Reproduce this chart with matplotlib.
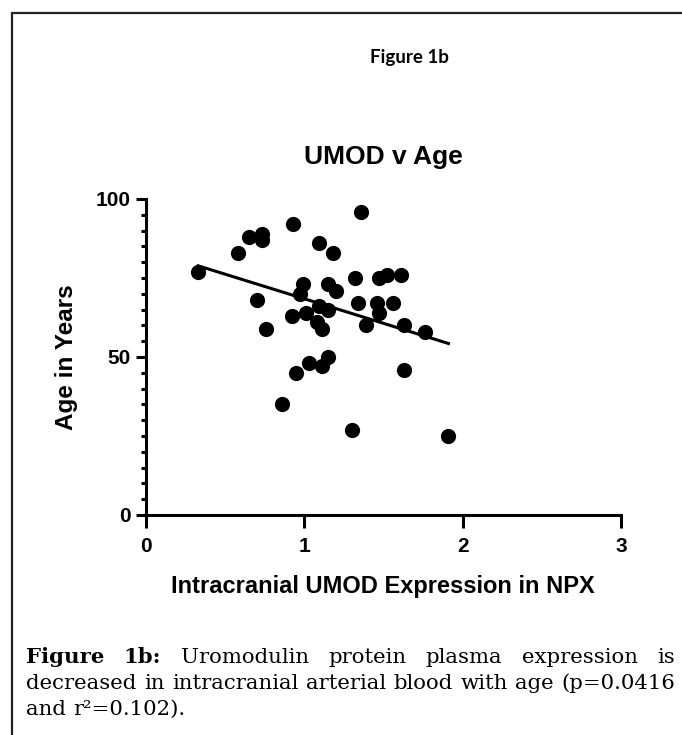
import numpy as np
import matplotlib
matplotlib.use("Agg")
import matplotlib.pyplot as plt
from matplotlib.patches import Rectangle

# intracranial UMOD expression (NPX) vs age
umod_npx = [0.33, 0.58, 0.65, 0.73, 0.73, 0.93, 1.36, 1.09, 1.18, 0.70,
            0.76, 0.99, 0.97, 0.92, 1.01, 1.09, 1.15, 1.08, 1.11, 1.15,
            1.20, 1.32, 1.34, 1.39, 1.47, 1.52, 1.61, 1.46, 1.47, 1.56,
            1.63, 1.76, 1.15, 1.03, 1.11, 0.95, 1.63, 0.86, 1.30, 1.91]
age_years = [77, 83, 88, 89, 87, 92, 96, 86, 83, 68,
             59, 73, 70, 63, 64, 66, 65, 61, 59, 73,
             71, 75, 67, 60, 75, 76, 76, 67, 64, 67,
             60, 58, 50, 48, 47, 45, 46, 35, 27, 25]

x_ticks = [0, 1, 2, 3]
y_ticks = [0, 50, 100]

caption_lines = [
    [("Figure 1b:", "bold"), ("Uromodulin protein plasma expression is", "normal")],
    [("decreased in intracranial arterial blood with age (p=0.0416", "normal")],
    [("and r\u00b2=0.102).", "normal")],
]

W, H = 682, 735
fig = plt.figure(figsize=(W / 100, H / 100), dpi=100)

sans = "Liberation Sans"
ax = fig.add_axes([146 / W, 1 - 515 / H, (621 - 146) / W, (515 - 199) / H])
ax.scatter(umod_npx, age_years, s=120, color="black", zorder=3, clip_on=False,
           linewidths=0)

# linear fit
x = np.array(umod_npx)
slope, icpt = np.polyfit(x, age_years, 1)
xs = np.array([x.min(), x.max()])
ax.plot(xs, slope * xs + icpt, color="black", lw=2.2, zorder=2)

ax.set_xlim(0, 3)
ax.set_ylim(0, 100)
ax.set_xticks(x_ticks)
ax.set_yticks(y_ticks)
ax.set_yticks(np.arange(0, 101, 5), minor=True)
for side in ["top", "right"]:
    ax.spines[side].set_visible(False)
for side in ["left", "bottom"]:
    ax.spines[side].set_linewidth(2.2)
ax.tick_params(axis="y", which="major", length=7, width=2.2, pad=4)
ax.tick_params(axis="y", which="minor", length=3.6, width=2.2)
ax.tick_params(axis="x", which="major", length=9, width=2.2, pad=7)
ax.set_xticklabels([str(v) for v in x_ticks], fontsize=15, fontweight="bold",
                   family=sans)
ax.set_yticklabels([str(v) for v in y_ticks], fontsize=15, fontweight="bold",
                   family=sans)

fig.text(383 / W, 1 - 157 / H, "UMOD v Age", ha="center", va="center",
         fontsize=19, fontweight="bold", family=sans)
fig.text(66 / W, 1 - 357 / H, "Age in Years", ha="center", va="center",
         rotation=90, fontsize=17.5, fontweight="bold", family=sans)
fig.text(383 / W, 1 - 587 / H, "Intracranial UMOD Expression in NPX",
         ha="center", va="center", fontsize=17, fontweight="bold", family=sans)
fig.text(409 / W, 1 - 57 / H, "Figure 1b", ha="center", va="center",
         fontsize=13.5, fontweight="bold", family="Lato")

# outer frame (right and bottom edges run off the page)
fig.patches.append(Rectangle((12 / W, -0.1), 1.2, 1 - 13 / H + 0.1, fill=False,
                             lw=1.6, edgecolor="#222222",
                             transform=fig.transFigure, clip_on=False))

# justified caption
serif = "DejaVu Serif"
left, right = 26, 675
baselines = [663, 689, 715]
renderer = fig.canvas.get_renderer()


def text_width(s, weight, size):
    t = fig.text(0, 0, s, fontsize=size, family=serif, fontweight=weight)
    w = t.get_window_extent(renderer).width
    t.remove()
    return w


# size the caption so the second (full) line fits the column naturally
cap_size = 10 * (right - left) / text_width(caption_lines[1][0][0], "normal", 10)

for i, line in enumerate(caption_lines):
    words = []
    for chunk, weight in line:
        words += [(w, weight) for w in chunk.split(" ")]
    widths = [text_width(w, wt, cap_size) for w, wt in words]
    if i < len(caption_lines) - 1 and len(words) > 1:
        gap = (right - left - sum(widths)) / (len(words) - 1)
    else:
        gap = text_width("a b", "normal", cap_size) - text_width("ab", "normal", cap_size)
    xpos = left
    for (w, wt), wd in zip(words, widths):
        fig.text(xpos / W, 1 - baselines[i] / H, w, fontsize=cap_size,
                 family=serif, fontweight=wt, va="baseline", ha="left")
        xpos += wd + gap

fig.savefig("out.png", dpi=100)
